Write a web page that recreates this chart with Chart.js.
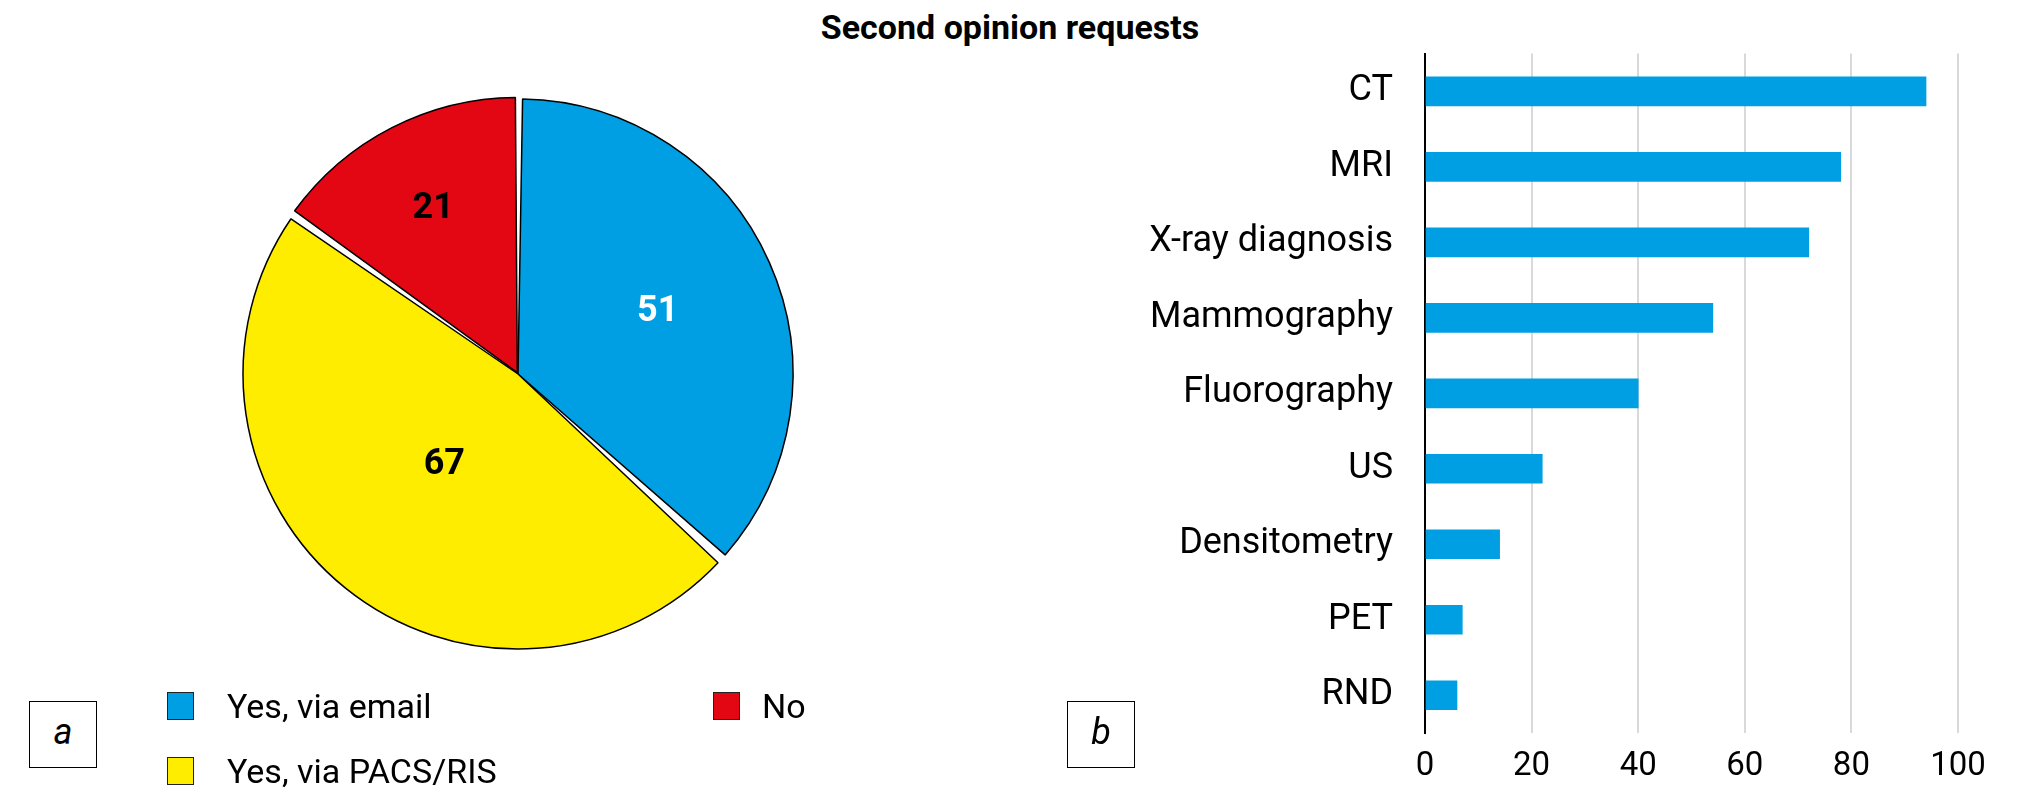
<!DOCTYPE html>
<html>
<head>
<meta charset="utf-8">
<script src="https://cdn.jsdelivr.net/npm/chart.js@4"></script>
<style>
  body { margin: 0; background: #fff; }
  #page { position: relative; width: 2020px; height: 801px; background: #fff; font-family: Roboto, "Liberation Sans", sans-serif; color: #000; overflow: hidden; }
  #title { position: absolute; left: 0; width: 2020px; top: 7px; line-height: 40px; text-align: center; font-size: 34px; font-weight: bold; }
  #pieBox { position: absolute; left: 218px; top: 74px; width: 600px; height: 600px; }
  #barBox { position: absolute; left: 1080px; top: 0; width: 940px; height: 801px; }
  .tag { position: absolute; top: 701px; width: 66px; height: 65px; border: 1.5px solid #000; font-style: italic; font-size: 36px; line-height: 60px; text-align: center; }
  #legend { position: absolute; left: 167px; top: 673px; display: grid; grid-template-rows: 65px 65px; grid-auto-flow: column; grid-auto-columns: 546px; }
  .item { display: flex; align-items: center; font-size: 34px; }
  .swatch { width: 25px; height: 26px; border: 1.5px solid #222; margin-right: 33px; }
  .item:nth-child(3) .swatch { margin-right: 22px; }
</style>
</head>
<body>
<div id="page">
  <div id="title">Second opinion requests</div>
  <div id="pieBox"><canvas id="pieChart"></canvas></div>
  <div id="legend"></div>
  <div class="tag" style="left:29px">a</div>
  <div class="tag" style="left:1067px">b</div>
  <div id="barBox"><canvas id="barChart"></canvas></div>
</div>
<script>
// pie: how second opinions are requested
const pieLabels = ['Yes, via email', 'Yes, via PACS/RIS', 'No'];
const pieValues = [51, 67, 21];
const pieColors = ['#009FE3', '#FFED00', '#E30613'];

// bar: second opinion requests by modality
const modalities = ['CT', 'MRI', 'X-ray diagnosis', 'Mammography', 'Fluorography', 'US', 'Densitometry', 'PET', 'RND'];
const requests = [94, 78, 72, 54, 40, 22, 14, 7, 6];
const xTicks = [0, 20, 40, 60, 80, 100];

const FONT = 'Roboto, "Liberation Sans", sans-serif';

// legend under the pie
const legendEl = document.getElementById('legend');
pieLabels.forEach((lab, i) => {
  const item = document.createElement('div');
  item.className = 'item';
  item.innerHTML = `<span class="swatch" style="background:${pieColors[i]}"></span><span>${lab}</span>`;
  legendEl.appendChild(item);
});

// numbers inside the slices
const sliceLabels = {
  id: 'sliceLabels',
  afterDatasetsDraw(chart, args, opts) {
    const ctx = chart.ctx;
    const meta = chart.getDatasetMeta(0);
    meta.data.forEach((arc, i) => {
      const p = arc.getProps(['x', 'y', 'startAngle', 'endAngle', 'outerRadius'], true);
      const mid = (p.startAngle + p.endAngle) / 2;
      const r = p.outerRadius * opts.radius[i];
      ctx.save();
      ctx.font = 'bold 36px ' + FONT;
      ctx.fillStyle = opts.colors[i];
      ctx.textAlign = 'center';
      ctx.textBaseline = 'middle';
      ctx.fillText(chart.data.datasets[0].data[i], p.x + Math.cos(mid) * r, p.y + Math.sin(mid) * r);
      ctx.restore();
    });
  }
};

new Chart(document.getElementById('pieChart').getContext('2d'), {
  type: 'pie',
  data: {
    labels: pieLabels,
    datasets: [{
      data: pieValues,
      backgroundColor: pieColors,
      borderColor: '#000',
      borderWidth: 1.5,
      spacing: 4,
      offset: [0, 0, 6]
    }]
  },
  options: {
    responsive: true,
    maintainAspectRatio: false,
    animation: false,
    radius: 273,
    layout: { padding: 0 },
    plugins: {
      legend: { display: false },
      tooltip: { enabled: false },
      sliceLabels: { radius: [0.56, 0.43, 0.68], colors: ['#fff', '#000', '#000'] }
    }
  },
  plugins: [sliceLabels]
});

new Chart(document.getElementById('barChart').getContext('2d'), {
  type: 'bar',
  data: {
    labels: modalities,
    datasets: [{
      data: requests,
      backgroundColor: '#009FE3',
      barThickness: 29
    }]
  },
  options: {
    indexAxis: 'y',
    responsive: true,
    maintainAspectRatio: false,
    animation: false,
    layout: { padding: { top: 53, right: 62, left: 0, bottom: 0 } },
    plugins: {
      legend: { display: false },
      tooltip: { enabled: false }
    },
    scales: {
      x: {
        min: 0,
        max: 100,
        afterBuildTicks: s => { s.ticks = xTicks.map(v => ({ value: v })); },
        afterFit: s => { s.height = 68; },
        ticks: {
          color: '#000',
          padding: 14,
          font: { size: 33, family: FONT }
        },
        grid: { color: '#d9d9d9', lineWidth: 2, drawTicks: false },
        border: { display: false }
      },
      y: {
        afterFit: s => { s.width = 345; },
        ticks: {
          color: '#000',
          padding: 32,
          font: { size: 36, family: FONT }
        },
        grid: { display: false, drawTicks: false },
        border: { display: true, color: '#000', width: 2 }
      }
    }
  }
});
</script>
</body>
</html>
